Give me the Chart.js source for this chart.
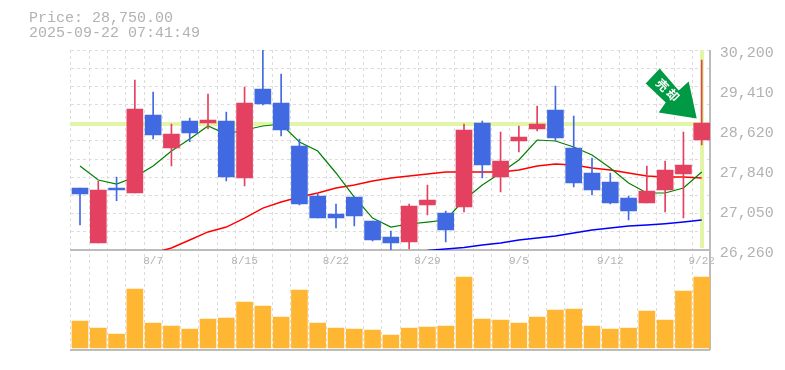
<!DOCTYPE html>
<html>
<head>
<meta charset="utf-8">
<style>
  html, body { margin: 0; padding: 0; background: #fff; }
  #wrap { width: 785px; height: 370px; }
</style>
<script src="https://cdn.jsdelivr.net/npm/chart.js@4/dist/chart.umd.js"></script>
</head>
<body>
<div id="wrap"><canvas id="chart" width="785" height="370"></canvas></div>
<script>
const headerLines = ['Price: 28,750.00', '2025-09-22 07:41:49'];
const arrowChars = ['売', '却'];

const labels = ['', '', '', '', '8/7', '', '', '', '', '8/15', '', '', '', '', '8/22', '', '', '', '', '8/29',
  '', '', '', '', '9/5', '', '', '', '', '9/12', '', '', '', '', '9/22'];

const priceTicks = [30200, 29410, 28620, 27840, 27050, 26260];
const lastPrice = 28750;

const opens = [27481, 26398, 27481, 27383, 28920, 28269, 28801, 28762, 28801, 27678, 29432, 29156, 28309, 27324, 26969, 27304, 26831, 26516, 26418, 27147, 26989, 27107, 28762, 27698, 28407, 28644, 29018, 28269, 27777, 27600, 27284, 27186, 27442, 27757, 28427];
const closes = [27363, 27442, 27442, 29038, 28526, 28545, 28565, 28821, 27698, 29156, 29136, 28624, 27166, 26890, 26890, 26930, 26457, 26398, 27127, 27245, 26654, 28624, 27935, 28013, 28486, 28742, 28466, 27580, 27442, 27186, 27028, 27422, 27836, 27935, 28762];
const highs = [27481, 27619, 27698, 29609, 29373, 28742, 28860, 29333, 28979, 29471, 30200, 29727, 28447, 27363, 27166, 27304, 26831, 26634, 27166, 27541, 27028, 28742, 28801, 28585, 28703, 29097, 29491, 28900, 28072, 27777, 27324, 27915, 28013, 28585, 30003];
const lows = [26753, 26398, 27231, 27383, 28447, 27915, 28393, 28644, 27619, 27521, 29117, 28506, 27147, 26890, 26693, 26733, 26437, 26240, 26280, 26950, 26418, 27009, 27678, 27403, 28191, 28604, 28407, 27501, 27344, 27166, 26851, 27186, 27009, 26890, 28329];

const volumes = [27, 20, 14, 59, 25, 22, 19, 29, 30, 46, 42, 31, 58, 25, 20, 19, 18, 13, 20, 21, 22, 71, 29, 28, 25, 31, 38, 39, 22, 19, 20, 37, 28, 57, 71];

const maShort = [27915, 27639, 27560, 27698, 27915, 28210, 28447, 28703, 28545, 28624, 28703, 28742, 28388, 28210, 27777, 27304, 26890, 26713, 26772, 26811, 26851, 27245, 27540, 27777, 28033, 28427, 28407, 28289, 28131, 27875, 27580, 27383, 27383, 27481, 27796];
const maMiddle = [null, null, null, null, 26201, 26300, 26457, 26615, 26713, 26890, 27087, 27206, 27304, 27383, 27481, 27540, 27619, 27678, 27717, 27757, 27796, 27796, 27796, 27796, 27836, 27915, 27954, 27934, 27875, 27836, 27777, 27717, 27698, 27698, 27678];
const maLong = [null, null, null, null, null, null, null, null, null, null, null, null, null, null, null, null, null, null, null, 26250, 26280, 26309, 26358, 26398, 26457, 26496, 26536, 26595, 26654, 26693, 26733, 26753, 26778, 26811, 26851];

const RED = '#e44060';
const BLUE = '#4169e1';
const ORANGE = '#ffb733';
const LIME = '#e3f5a6';
const GRID = '#dcdcdc';
const FRAME = '#bcbcbc';
const TEXT = '#b2b2b2';
const ARROW = '#009944';
const MONO = '"Liberation Mono", monospace';

const candleColors = opens.map((o, i) => (closes[i] >= o ? RED : BLUE));
const yTop = priceTicks[0];
const yBottom = priceTicks[priceTicks.length - 1];

// horizontal dashes do not line up with the price labels, so both go in as ticks
const gridTicks = [];
for (let i = 0; i <= 11; i++) gridTicks.push(yTop - (yTop - yBottom) * i / 11);

const overlay = {
  id: 'overlay',
  beforeDatasetsDraw(chart) {
    const { ctx, chartArea: area, scales } = chart;
    const py = scales.y.getPixelForValue(lastPrice);
    const px = scales.x.getPixelForValue(labels.length - 1);
    const left = Math.floor(area.left);
    const right = Math.floor(area.right);
    ctx.save();
    ctx.fillStyle = LIME;
    ctx.fillRect(left, Math.round(py) - 2, 640, 4);
    ctx.fillRect(Math.round(px) - 2, area.top, 4, scales.y.bottom - area.top - 2);
    // frame
    ctx.fillStyle = FRAME;
    ctx.fillRect(left, Math.round(scales.y.bottom) - 1, 640, 2);
    ctx.fillRect(left, area.bottom - 1, 640, 2);
    ctx.fillRect(right - 1, area.top, 2, area.bottom - area.top);
    ctx.restore();
  },
  afterDraw(chart) {
    const { ctx, scales } = chart;
    ctx.save();
    // header
    ctx.fillStyle = TEXT;
    ctx.font = '15px ' + MONO;
    ctx.textAlign = 'left';
    ctx.textBaseline = 'middle';
    headerLines.forEach((line, i) => ctx.fillText(line, 29, 18 + i * 15));

    // arrow hangs off the last candle
    const ax = scales.x.getPixelForValue(labels.length - 1);
    const ay = scales.y.getPixelForValue(lastPrice);
    const outline = [[-42, -55], [-56, -40], [-36, -21], [-43, -11], [-5, -5], [-13, -42], [-23, -33]];
    ctx.fillStyle = ARROW;
    ctx.beginPath();
    outline.forEach(([dx, dy], i) => (i ? ctx.lineTo(ax + dx, ay + dy) : ctx.moveTo(ax + dx, ay + dy)));
    ctx.closePath();
    ctx.fill();
    ctx.fillStyle = '#fff';
    ctx.font = 'bold 12px "Noto Sans CJK JP"';
    ctx.textAlign = 'center';
    ctx.textBaseline = 'middle';
    arrowChars.forEach((ch, i) => {
      ctx.save();
      ctx.translate(ax - 39.3 + i * 10.6, ay - 38.6 + i * 10);
      ctx.rotate(Math.PI / 4);
      ctx.fillText(ch, 0, 0);
      ctx.restore();
    });
    ctx.restore();
  }
};

new Chart(document.getElementById('chart').getContext('2d'), {
  data: {
    labels: labels,
    datasets: [
      { type: 'bar', label: 'body', data: opens.map((o, i) => [o, closes[i]]), yAxisID: 'y',
        backgroundColor: candleColors, barThickness: 16, grouped: false, order: 1 },
      { type: 'bar', label: 'wick', data: lows.map((l, i) => [l, highs[i]]), yAxisID: 'y',
        backgroundColor: candleColors, barThickness: 1, grouped: false, order: 2 },
      { type: 'line', label: 'short', data: maShort, yAxisID: 'y', borderColor: '#008000', borderWidth: 1.2,
        pointRadius: 0, tension: 0, order: 3 },
      { type: 'line', label: 'middle', data: maMiddle, yAxisID: 'y', borderColor: '#ff0000', borderWidth: 1.4,
        pointRadius: 0, tension: 0, order: 4 },
      { type: 'line', label: 'long', data: maLong, yAxisID: 'y', borderColor: '#0000ff', borderWidth: 1.4,
        pointRadius: 0, tension: 0, order: 5 },
      { type: 'bar', label: 'volume', data: volumes, yAxisID: 'y2', backgroundColor: ORANGE,
        barThickness: 16, grouped: false, order: 6 }
    ]
  },
  plugins: [overlay],
  options: {
    responsive: false,
    animation: false,
    events: [],
    layout: { autoPadding: false, padding: { left: 70.86, top: 50, right: 0, bottom: 20 } },
    plugins: { legend: { display: false }, tooltip: { enabled: false } },
    scales: {
      x: {
        position: { y2: 98 },
        offset: true,
        grid: { color: GRID, lineWidth: 1, offset: true, drawTicks: false },
        border: { dash: [3, 3], display: false },
        ticks: { autoSkip: false, maxRotation: 0, minRotation: 0, padding: 4, color: TEXT,
          font: { family: MONO, size: 11 } }
      },
      y: {
        position: 'right',
        stack: 'panes',
        stackWeight: 2,
        min: yBottom,
        max: yTop,
        afterFit(scale) { scale.width = 74.14; },
        afterBuildTicks(scale) {
          const vals = new Set(gridTicks.concat(priceTicks));
          scale.ticks = [...vals].sort((a, b) => a - b).map(v => ({ value: v }));
        },
        grid: {
          color: ctx => (gridTicks.includes(ctx.tick.value) ? GRID : 'transparent'),
          drawTicks: false
        },
        border: { dash: [3, 3], display: false },
        ticks: {
          autoSkip: false,
          padding: 9,
          labelOffset: 3,
          color: TEXT,
          font: { family: MONO, size: 15 },
          callback: v => (priceTicks.includes(v) ? v.toLocaleString('en-US') : '')
        }
      },
      y2: {
        position: 'right',
        stack: 'panes',
        stackWeight: 1,
        min: -2,
        max: 98,
        afterFit(scale) { scale.width = 74.14; },
        grid: { display: false, drawTicks: false },
        border: { display: false },
        ticks: { display: false }
      }
    }
  }
});
</script>
</body>
</html>
